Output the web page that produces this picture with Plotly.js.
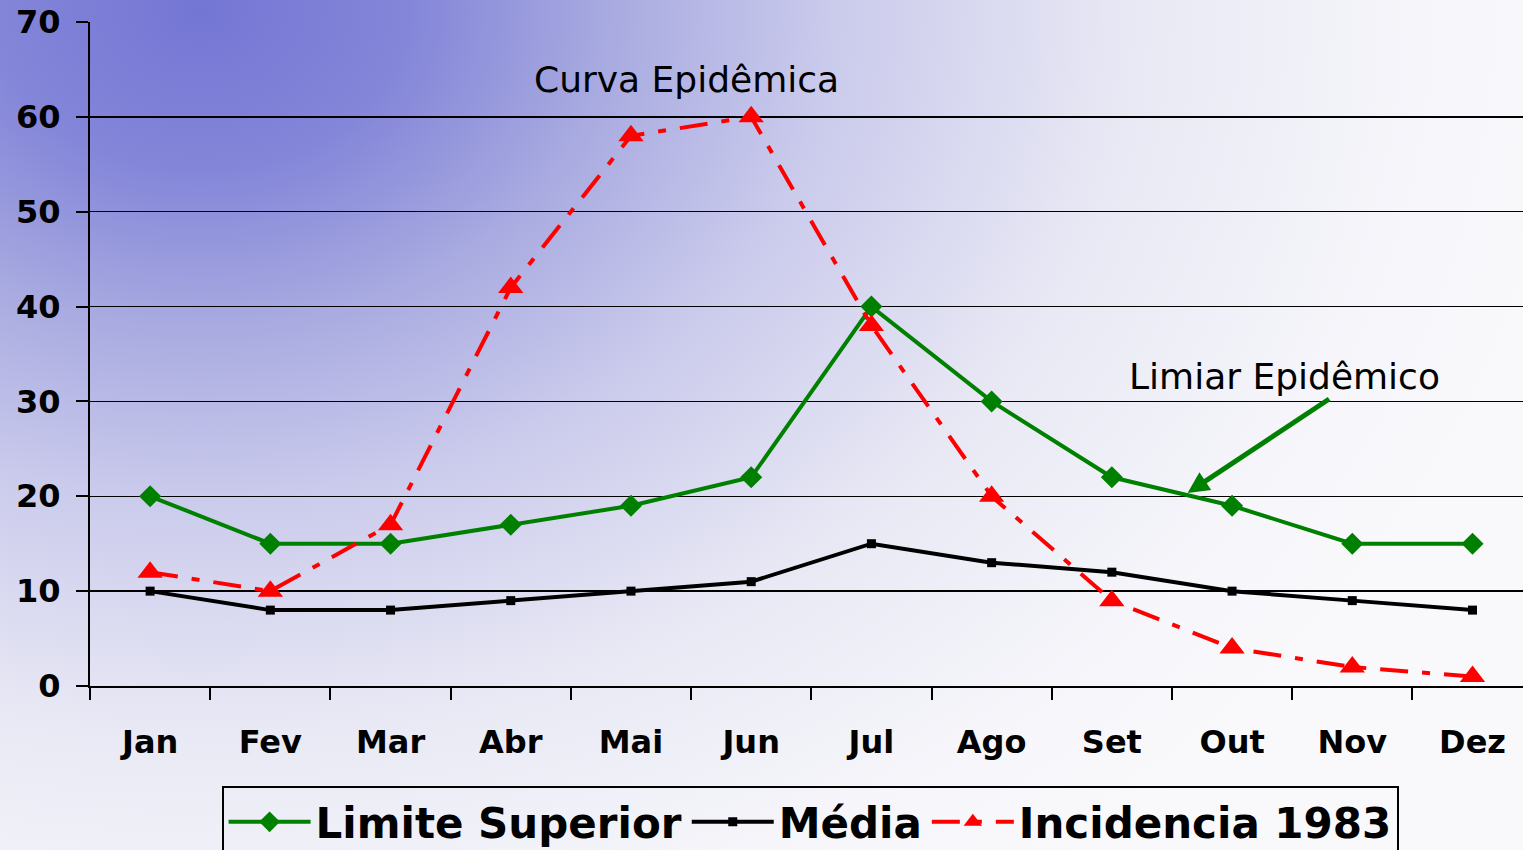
<!DOCTYPE html>
<html>
<head>
<meta charset="utf-8">
<script src="https://cdn.plot.ly/plotly-3.0.1.min.js"></script>
<style>
html,body{margin:0;padding:0;}
body{width:1523px;height:850px;overflow:hidden;
background: radial-gradient(ellipse 1400px 1080px at 200px 10px,
 rgb(116,118,212) 0%, rgb(132,134,217) 15%, rgb(170,172,225) 30%,
 rgb(202,202,236) 45%, rgb(233,233,245) 67%, rgb(247,247,251) 90%, rgb(249,249,252) 100%);}
#chart{width:1523px;height:850px;}
</style>
</head>
<body>
<div id="chart"></div>
<script>
const months = ["Jan","Fev","Mar","Abr","Mai","Jun","Jul","Ago","Set","Out","Nov","Dez"];
const limiteSuperior = [20,15,15,17,19,22,40,30,22,19,15,15];
const media = [10,8,8,9,10,11,15,13,12,10,9,8];
const incidencia1983 = [12,10,17,42,58,60,38,20,9,4,2,1];
const yTicks = [0,10,20,30,40,50,60,70];

const traces = [
  {x: months, y: media, name: "Média", type: "scatter", mode: "lines+markers",
   line: {color: "#000000", width: 4}, marker: {symbol: "square", size: 9, color: "#000000"}, legendrank: 2},
  {x: months, y: limiteSuperior, name: "Limite Superior", type: "scatter", mode: "lines+markers",
   line: {color: "#008000", width: 4}, marker: {symbol: "diamond", size: 17, color: "#008000"}, legendrank: 1},
  {x: months, y: incidencia1983, name: "Incidencia 1983", type: "scatter", mode: "lines+markers",
   line: {color: "#ff0000", width: 4, dash: "28px,14px,8px,14px"},
   marker: {symbol: "triangle-up", size: 22, color: "#ff0000"}, legendrank: 3}
];

const layout = {
  width: 1523, height: 850,
  margin: {l: 90, r: 0, t: 22, b: 164},
  paper_bgcolor: "rgba(0,0,0,0)",
  plot_bgcolor: "rgba(0,0,0,0)",
  showlegend: true,
  legend: {orientation: "h", x: 0.5025, xanchor: "center", y: 0.0753, yanchor: "top", yref: "container",
    bordercolor: "#000000", borderwidth: 2, bgcolor: "rgba(0,0,0,0)",
    font: {family: "DejaVu Sans", size: 42, color: "#000000", weight: "bold"},
    itemwidth: 82, traceorder: "normal"},
  xaxis: {type: "category", range: [-0.5, 11.42], tickson: "boundaries",
    ticks: "outside", ticklen: 12, tickwidth: 2, tickcolor: "#000000",
    showgrid: false, showline: true, linecolor: "#000000", linewidth: 2,
    ticklabelstandoff: 27,
    tickfont: {family: "DejaVu Sans", size: 32, color: "#000000", weight: "bold"}, fixedrange: true},
  yaxis: {range: [0, 70], tickvals: yTicks, ticks: "outside", ticklen: 12, tickwidth: 2, tickcolor: "#000000",
    showgrid: true, gridcolor: "#000000", gridwidth: 1.5, zeroline: false,
    showline: true, linecolor: "#000000", linewidth: 2, ticklabelstandoff: 9,
    tickfont: {family: "DejaVu Sans", size: 32, color: "#000000", weight: "bold"}, fixedrange: true},
  annotations: [
    {x: 4.46, y: 63.9, xref: "x", yref: "y", text: "Curva Epidêmica", showarrow: false,
     font: {family: "DejaVu Sans", size: 36, color: "#000000"}},
    {x: 9.44, y: 32.6, xref: "x", yref: "y", text: "Limiar Epidêmico", showarrow: false,
     font: {family: "DejaVu Sans", size: 36, color: "#000000"}},
    {x: 8.63, y: 20.35, xref: "x", yref: "y", ax: 9.82, ay: 30.36, axref: "x", ayref: "y",
     text: "", showarrow: true, arrowhead: 2, arrowsize: 0.85, arrowwidth: 5, arrowcolor: "#008000", standoff: 0}
  ]
};

Plotly.newPlot("chart", traces, layout, {displayModeBar: false, staticPlot: true});
</script>
</body>
</html>
